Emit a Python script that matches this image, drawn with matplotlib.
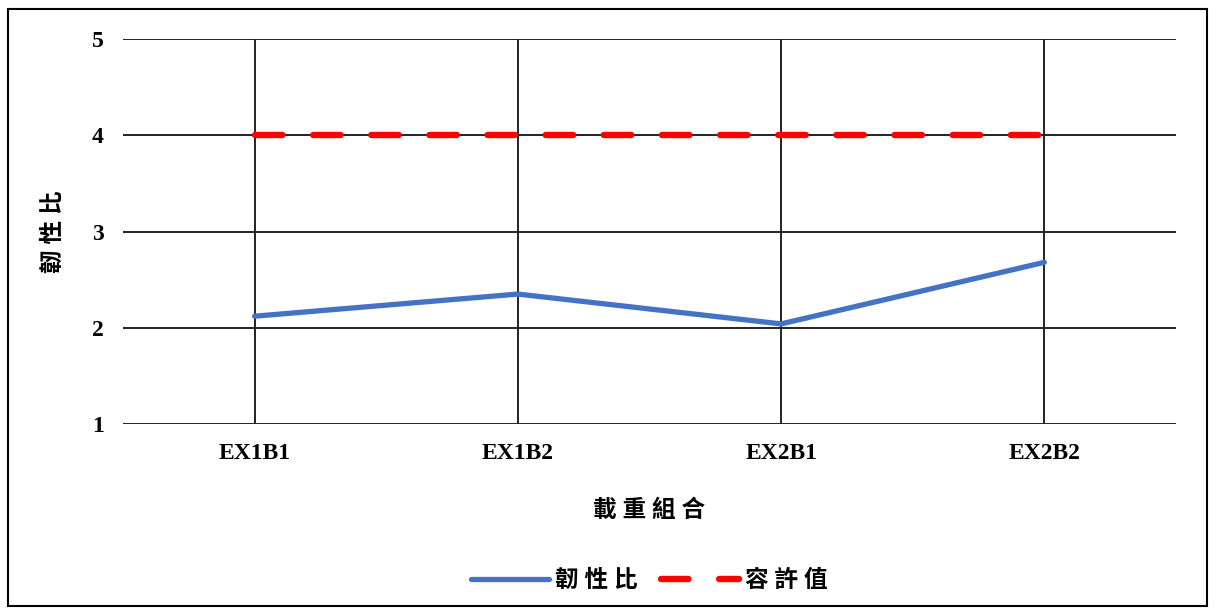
import matplotlib
matplotlib.use("Agg")
from matplotlib import pyplot as plt
from matplotlib.patches import Rectangle

categories = ["EX1B1", "EX1B2", "EX2B1", "EX2B2"]
ductility = [2.12, 2.35, 2.04, 2.68]
allowable = [4, 4, 4, 4]
yticks = [1, 2, 3, 4, 5]

fonts = ["Liberation Serif", "Noto Sans CJK TC"]
plt.rcParams["font.family"] = fonts
plt.rcParams["font.weight"] = "bold"

fig = plt.figure(figsize=(12.17, 6.13), dpi=100)
ax = fig.add_axes([123 / 1217, 1 - 424 / 613, (1176 - 123) / 1217, (424 - 39) / 613])

x = list(range(len(categories)))
ax.plot(x, ductility, color="#4472C4", lw=3.8, solid_capstyle="round", label="韌 性 比", zorder=3)
ax.plot(x, allowable, color="#FF0000", lw=4.6, dashes=(4.3, 4.8), dash_capstyle="round",
        label="容 許 值", zorder=3)

ax.set_xlim(-0.5, 3.5)
ax.set_ylim(1, 5)
ax.set_xticks(x)
ax.set_xticklabels(categories)
ax.set_yticks(yticks)
ax.tick_params(length=0, labelsize=17, pad=14)
ax.tick_params(axis="x", pad=14)
for s in ax.spines.values():
    s.set_visible(False)
ax.grid(True, color="#222222", lw=1.4)
ax.set_axisbelow(True)

ax.set_xlabel("載 重 組 合", fontsize=17, fontweight="bold", labelpad=25)
ax.set_ylabel("韌 性 比", fontsize=17, fontweight="bold", labelpad=19)

leg = ax.legend(loc="center", bbox_to_anchor=(0.5, -0.408), ncol=2, frameon=False,
                fontsize=17, handlelength=3.3, columnspacing=1.0, handletextpad=0.25)

# outer frame like the document box
fig.patches.append(Rectangle((8 / 1217, 1 - 606 / 613), (1207 - 8) / 1217, (606 - 9) / 613,
                             transform=fig.transFigure, fill=False, ec="black", lw=1.5))

fig.savefig("out.png", dpi=100)
